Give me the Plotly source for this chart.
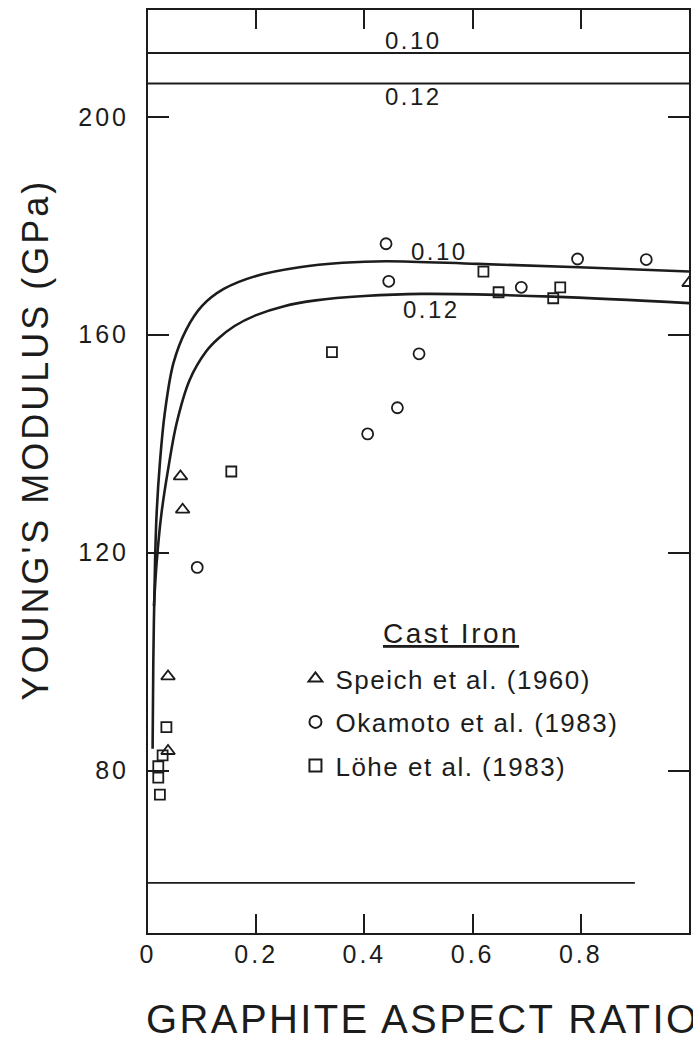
import plotly.graph_objects as go

# ---------------- data ----------------
# model curves (volume fraction of graphite 0.10 and 0.12)
curve_010_x = [0.0085, 0.0098, 0.013, 0.016, 0.022, 0.031, 0.047, 0.071, 0.10, 0.14, 0.20, 0.28, 0.36, 0.44, 0.609, 0.797, 1.0]
curve_010_y = [84.0, 99.8, 118.2, 127.3, 136.5, 145.6, 154.8, 161.0, 165.3, 168.4, 170.8, 172.4, 173.2, 173.5, 173.0, 172.4, 171.6]
curve_012_x = [0.011, 0.016, 0.025, 0.037, 0.053, 0.077, 0.108, 0.13, 0.16, 0.20, 0.25, 0.31, 0.40, 0.505, 0.749, 1.0]
curve_012_y = [110.2, 118.2, 127.3, 135.2, 143.8, 151.7, 157.0, 159.3, 161.6, 163.6, 165.2, 166.3, 167.1, 167.5, 167.0, 165.8]

# horizontal bound lines
bound_x = [0.0, 1.0]
upper_bound_010 = 211.7
upper_bound_012 = 206.1
lower_bound_x = [0.0, 0.9]
lower_bound = 59.4

# experimental data
speich_x = [0.060, 0.064, 0.037, 0.037, 1.0]
speich_y = [134.0, 127.9, 97.3, 83.6, 169.5]
okamoto_x = [0.440, 0.445, 0.690, 0.794, 0.921, 0.501, 0.461, 0.406, 0.091]
okamoto_y = [176.7, 169.8, 168.7, 173.9, 173.8, 156.5, 146.6, 141.8, 117.3]
lohe_x = [0.620, 0.648, 0.749, 0.762, 0.340, 0.154, 0.034, 0.027, 0.019, 0.019, 0.022]
lohe_y = [171.6, 167.8, 166.7, 168.7, 156.8, 134.9, 88.0, 82.8, 80.8, 78.7, 75.6]

x_tick_vals = [0, 0.2, 0.4, 0.6, 0.8]
x_tick_text = ["0", "0.2", "0.4", "0.6", "0.8"]
y_tick_vals = [80, 120, 160, 200]
y_tick_text = ["80", "120", "160", "200"]

# ---------------- style ----------------
INK = "#1c1c1c"
FONT = "Liberation Sans, Arial, Helvetica, sans-serif"


def sp(text, ls):
    return f'<span style="letter-spacing:{ls}px">{text}</span>'


fig = go.Figure()

line_style = dict(color=INK, width=2.6)
fig.add_trace(go.Scatter(x=bound_x, y=[upper_bound_010] * 2, mode="lines",
                         line=dict(color=INK, width=2), showlegend=False, hoverinfo="skip"))
fig.add_trace(go.Scatter(x=bound_x, y=[upper_bound_012] * 2, mode="lines",
                         line=dict(color=INK, width=2), showlegend=False, hoverinfo="skip"))
fig.add_trace(go.Scatter(x=lower_bound_x, y=[lower_bound] * 2, mode="lines",
                         line=dict(color=INK, width=1.8), showlegend=False, hoverinfo="skip"))
fig.add_trace(go.Scatter(x=curve_010_x, y=curve_010_y, mode="lines",
                         line=dict(shape="spline", smoothing=1.0, **line_style),
                         showlegend=False))
fig.add_trace(go.Scatter(x=curve_012_x, y=curve_012_y, mode="lines",
                         line=dict(shape="spline", smoothing=1.0, **line_style),
                         showlegend=False))

mk_line = dict(color=INK, width=1.8)
fig.add_trace(go.Scatter(x=speich_x, y=speich_y, mode="markers",
                         name=sp("Speich et al. (1960)", 1.5), legendgroup="a",
                         marker=dict(symbol="triangle-up-open", size=12, color=INK, line=mk_line)))
fig.add_trace(go.Scatter(x=okamoto_x, y=okamoto_y, mode="markers",
                         name=sp("Okamoto et al. (1983)", 1.5), legendgroup="b",
                         marker=dict(symbol="circle-open", size=11, color=INK, line=mk_line)))
fig.add_trace(go.Scatter(x=lohe_x, y=lohe_y, mode="markers",
                         name=sp("Löhe et al. (1983)", 1.5), legendgroup="c",
                         marker=dict(symbol="square-open", size=10, color=INK, line=mk_line)))

annots = [
    dict(x=0.490, y=214.0, text=sp("0.10", 2.5)),
    dict(x=0.490, y=203.7, text=sp("0.12", 2.5)),
    dict(x=0.538, y=175.3, text=sp("0.10", 2.5)),
    dict(x=0.524, y=164.6, text=sp("0.12", 2.5)),
]
for a in annots:
    fig.add_annotation(x=a["x"], y=a["y"], xref="x", yref="y", text=a["text"],
                       showarrow=False, font=dict(family=FONT, size=24, color=INK),
                       xanchor="center", yanchor="middle")

fig.add_annotation(x=(452 - 148) / 543, y=(933 - 633) / 923, xref="paper", yref="paper",
                   text='<span style="text-decoration:underline;letter-spacing:2.5px">Cast Iron</span>',
                   showarrow=False, font=dict(family=FONT, size=28, color=INK),
                   xanchor="center", yanchor="middle")

# axis titles
fig.add_annotation(x=-4 / 543, y=-(1019 - 933) / 923, xref="paper", yref="paper",
                   text=sp("GRAPHITE ASPECT RATIO", 2.4), showarrow=False,
                   font=dict(family=FONT, size=40, color=INK),
                   xanchor="left", yanchor="middle")
fig.add_annotation(x=-113 / 543, y=0.535, xref="paper", yref="paper",
                   text=sp("YOUNG'S MODULUS (GPa)", 3), showarrow=False, textangle=-90,
                   font=dict(family=FONT, size=36, color=INK),
                   xanchor="center", yanchor="middle")

axis_common = dict(showline=True, linewidth=2, linecolor=INK, mirror="ticks",
                   ticks="inside", tickwidth=2, tickcolor=INK, showgrid=False, zeroline=False,
                   tickfont=dict(family=FONT, size=25, color=INK))

fig.update_xaxes(range=[0, 1.0], tickvals=x_tick_vals,
                 ticktext=[sp(t, 3) for t in x_tick_text], ticklen=19,
                 ticklabelstandoff=-2, **axis_common)
fig.update_yaxes(range=[50.2, 219.6], tickvals=y_tick_vals,
                 ticktext=[sp(t, 3) for t in y_tick_text], ticklen=21,
                 ticklabelstandoff=12, **axis_common)

fig.update_layout(
    width=693, height=1042,
    margin=dict(l=148, r=2, t=10, b=109, pad=0),
    paper_bgcolor="white", plot_bgcolor="white",
    font=dict(family=FONT, color=INK),
    legend=dict(x=(296 - 148) / 543, y=(933 - 655) / 923, xanchor="left", yanchor="top",
                font=dict(family=FONT, size=26, color=INK),
                traceorder="grouped", tracegroupgap=6.7, bgcolor="rgba(0,0,0,0)",
                itemsizing="constant"),
)

fig.write_html("out.html")
